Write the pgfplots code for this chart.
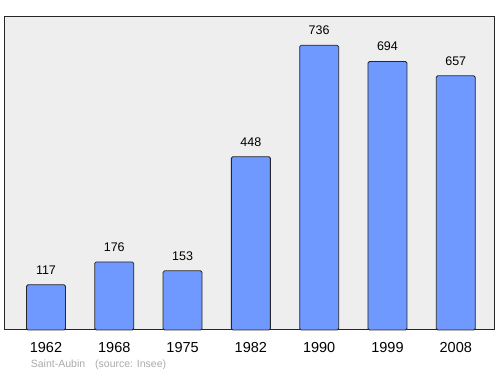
\documentclass[border=0pt]{standalone}
\usepackage{pgfplots}
\pgfplotsset{compat=1.18}
\usepackage{fontspec}
\setmainfont{Liberation Sans}
\definecolor{barblue}{RGB}{112,153,255}
\definecolor{bggray}{RGB}{238,238,238}
\definecolor{srcgray}{RGB}{170,170,170}
\begin{document}
\begin{tikzpicture}[x=1pt,y=1pt]
\path (0,0) rectangle (500,374);
\begin{axis}[
  at={(5pt,44pt)}, anchor=south west,
  scale only axis, width=489pt, height=313pt,
  xmin=-0.6, xmax=6.56, ymin=0, ymax=809,
  axis background/.style={fill=bggray},
  axis line style={draw=black!85, line width=1pt},
  ytick=\empty,
  xtick=data,
  xticklabels={1962,1968,1975,1982,1990,1999,2008},
  major tick length=0pt,
  xticklabel style={font=\fontsize{14.5}{14.5}\selectfont, inner sep=0pt, anchor=north, yshift=-12pt},
  ybar, bar width=39pt,
  nodes near coords,
  nodes near coords style={font=\fontsize{12.5}{12.5}\selectfont, inner sep=0pt, anchor=south, yshift=10pt},
  /pgf/number format/assume math mode=true,
  clip=false,
]
\addplot[fill=barblue, draw=black!85, line width=0.8pt, rounded corners=1.5pt] coordinates {
 (0,117) (1,176) (2,153) (3,448) (4,736) (5,694) (6,657)};
\end{axis}
\node[anchor=base west, inner sep=0pt, text=srcgray, font=\fontsize{10.5}{10.5}\selectfont] at (30.7,6) {Saint-Aubin\hspace{10pt}(source: Insee)};
\end{tikzpicture}
\end{document}
